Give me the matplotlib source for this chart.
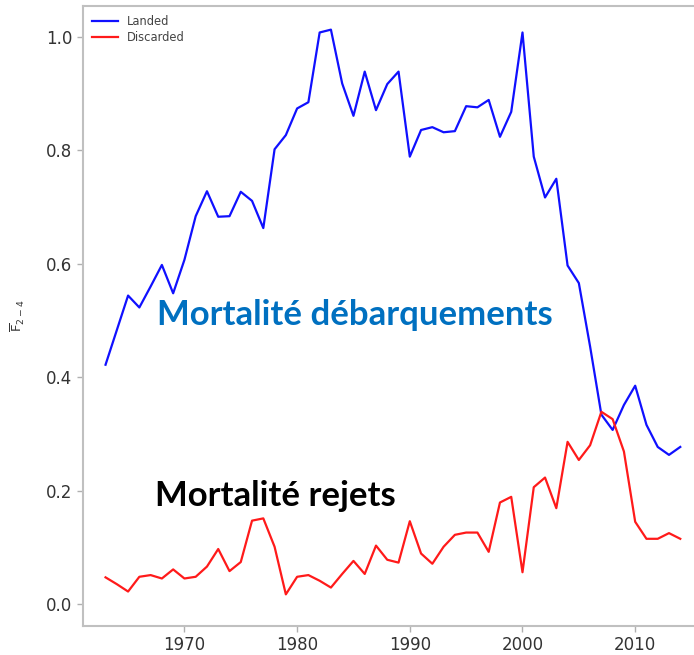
import matplotlib
matplotlib.use("Agg")
import matplotlib.pyplot as plt
from matplotlib.ticker import FormatStrFormatter

plt.rcParams["font.family"] = ["DejaVu Sans"]
plt.rcParams["mathtext.fontset"] = "dejavusans"

years = list(range(1963, 2015))
landed = [0.422, 0.483, 0.544, 0.523, 0.560, 0.598, 0.548, 0.607, 0.684, 0.728,
          0.683, 0.684, 0.727, 0.711, 0.663, 0.802, 0.827, 0.874, 0.885, 1.008,
          1.013, 0.918, 0.861, 0.939, 0.871, 0.917, 0.939, 0.789, 0.836, 0.841,
          0.832, 0.834, 0.878, 0.876, 0.889, 0.824, 0.868, 1.008, 0.789, 0.717,
          0.750, 0.597, 0.566, 0.454, 0.334, 0.307, 0.351, 0.385, 0.316, 0.277,
          0.263, 0.277]
discarded = [0.047, 0.035, 0.022, 0.048, 0.051, 0.045, 0.061, 0.045, 0.048, 0.066,
             0.097, 0.058, 0.074, 0.147, 0.151, 0.101, 0.017, 0.048, 0.051, 0.041,
             0.029, 0.053, 0.076, 0.053, 0.103, 0.078, 0.073, 0.146, 0.089, 0.071,
             0.101, 0.122, 0.126, 0.126, 0.092, 0.179, 0.189, 0.056, 0.206, 0.223,
             0.169, 0.286, 0.254, 0.280, 0.339, 0.326, 0.269, 0.145, 0.115, 0.115,
             0.125, 0.115]
series_labels = ["Landed", "Discarded"]
xticks = [1970, 1980, 1990, 2000, 2010]
yticks = [0.0, 0.2, 0.4, 0.6, 0.8, 1.0]
annot_landed = "Mortalité débarquements"
annot_discard = "Mortalité rejets"

W, H = 694, 655
fig = plt.figure(figsize=(W / 100, H / 100), dpi=100)
ax = fig.add_axes([83 / W, 29 / H, (709 - 83) / W, (626 - 6) / H])

ax.plot(years, landed, color="#1010ff", lw=1.6, label=series_labels[0])
ax.plot(years, discarded, color="#ff1a1a", lw=1.6, label=series_labels[1])

ax.set_xlim(1961.0, 2016.55)
ax.set_ylim(-0.0388, 1.0547)
ax.set_xticks(xticks)
ax.set_yticks(yticks)
ax.yaxis.set_major_formatter(FormatStrFormatter("%.1f"))

for s in ax.spines.values():
    s.set_color("#c0c0c0")
    s.set_linewidth(1.5)
ax.spines["right"].set_visible(False)
ax.tick_params(axis="both", colors="#b0b0b0", labelcolor="#333333",
               labelsize=12, length=4, width=1)

ax.set_ylabel(r"$\overline{\mathrm{F}}_{2-4}$", fontsize=9.5, color="#333333")
ax.yaxis.set_label_coords(-0.09, 0.5)

leg = ax.legend(loc="upper left", frameon=False, fontsize=8.3,
                handlelength=2.2, borderaxespad=0.4, labelspacing=0.25,
                handletextpad=0.8)
for t in leg.get_texts():
    t.set_color("#444444")

fig.canvas.draw()
renderer = fig.canvas.get_renderer()

def fit_text(s, x_px, base_px, width_px, color):
    t = fig.text(x_px / W, 1 - base_px / H, s, fontsize=20, fontweight="bold",
                 family=["Lato", "DejaVu Sans"], color=color, va="baseline", ha="left")
    w = t.get_window_extent(renderer).width
    t.set_fontsize(20 * width_px / w)
    return t

fit_text(annot_landed, 157, 325, 396, "#0070c0")
fit_text(annot_discard, 155, 506, 241, "#000000")

fig.savefig("out.png", dpi=100)
